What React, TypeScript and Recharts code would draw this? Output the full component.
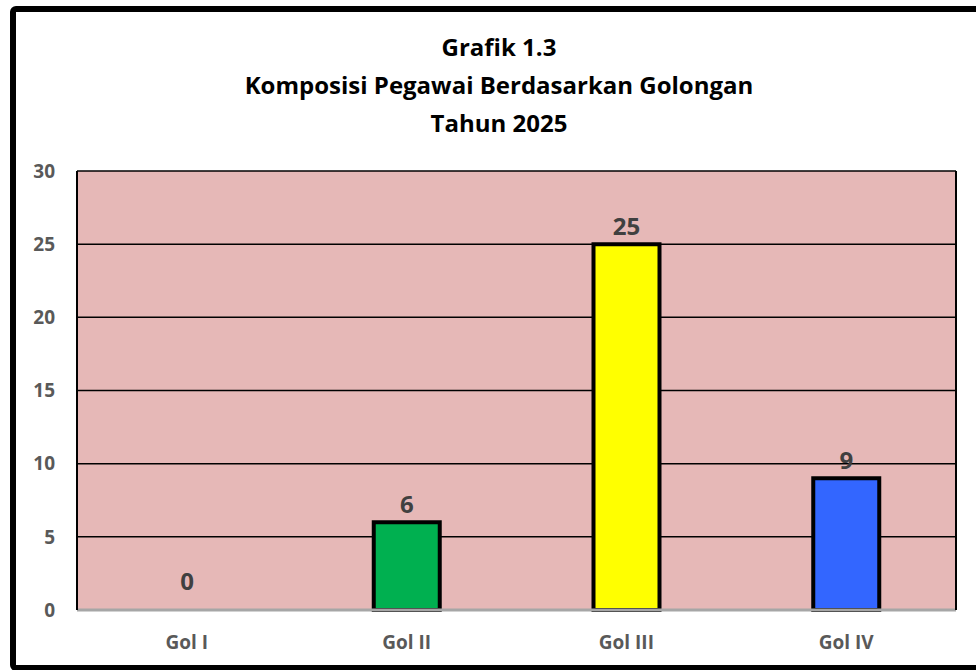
import React from 'react';
import { BarChart, Bar, XAxis, YAxis, CartesianGrid, Cell, LabelList } from 'recharts';

const categories = ['Gol I', 'Gol II', 'Gol III', 'Gol IV'];
const values = [0, 6, 25, 9];
const barColors = ['#E6B8B7', '#00B050', '#FFFF00', '#3366FF'];
const yTicks = [0, 5, 10, 15, 20, 25, 30];
const titleLines = ['Grafik 1.3', 'Komposisi Pegawai Berdasarkan Golongan', 'Tahun 2025'];

const data = categories.map((c, i) => ({ name: c, value: values[i] }));
const FONT = '"Open Sans", sans-serif';

const renderLabel = (props: any) => {
  const { x, y, width, value } = props;
  const off = value === 0 ? 19 : 9;
  return (
    <text
      x={x + width / 2}
      y={y - off}
      textAnchor="middle"
      fill="#404040"
      fontFamily={FONT}
      fontWeight={700}
      fontSize={24}
    >
      {value}
    </text>
  );
};

export default function App() {
  return (
    <div style={{ position: 'absolute', left: 0, top: 0, width: 976, height: 670, overflow: 'hidden', background: '#fff' }}>
      <div
        style={{
          position: 'absolute',
          left: 10,
          top: 6,
          width: 1000,
          height: 653,
          border: '6px solid #000',
          borderRadius: 6,
          boxSizing: 'content-box',
        }}
      />
      <div
        style={{
          position: 'absolute',
          left: 0,
          top: 28,
          width: 998,
          textAlign: 'center',
          fontFamily: FONT,
          fontWeight: 700,
          fontSize: 24,
          lineHeight: '38px',
          color: '#000',
        }}
      >
        {titleLines.map((t) => (
          <div key={t}>{t}</div>
        ))}
      </div>
      <div style={{ position: 'absolute', left: 0, top: 0 }}>
        <BarChart
          width={976}
          height={670}
          data={data}
          margin={{ top: 171, right: 19, bottom: 0, left: 0 }}
          barCategoryGap={0}
        >
          <CartesianGrid
            yAxisId="left"
            vertical={false}
            stroke="#000"
            strokeWidth={1.5}
            fill="#E6B8B7"
            fillOpacity={1}
          />
          <XAxis
            dataKey="name"
            height={60}
            axisLine={{ stroke: '#a6a6a6', strokeWidth: 3 }}
            tickLine={false}
            tickMargin={20}
            tick={{ fill: '#595959', fontFamily: FONT, fontWeight: 700, fontSize: 19 }}
          />
          <YAxis
            yAxisId="left"
            domain={[0, 30]}
            ticks={yTicks}
            width={77}
            axisLine={{ stroke: '#000', strokeWidth: 2 }}
            tickLine={false}
            tickSize={0}
            tickMargin={22}
            tick={{ fill: '#595959', fontFamily: FONT, fontWeight: 700, fontSize: 19 }}
          />
          <YAxis
            yAxisId="right"
            orientation="right"
            domain={[0, 30]}
            width={1}
            axisLine={{ stroke: '#000', strokeWidth: 2 }}
            tickLine={false}
            tick={false}
          />
          <Bar
            yAxisId="left"
            dataKey="value"
            barSize={66}
            minPointSize={1}
            stroke="#000"
            strokeWidth={4}
            isAnimationActive={false}
          >
            {data.map((d, i) => (
              <Cell key={d.name} fill={barColors[i]} stroke={d.value === 0 ? 'none' : '#000'} />
            ))}
            <LabelList dataKey="value" content={renderLabel} />
          </Bar>
        </BarChart>
      </div>
    </div>
  );
}
